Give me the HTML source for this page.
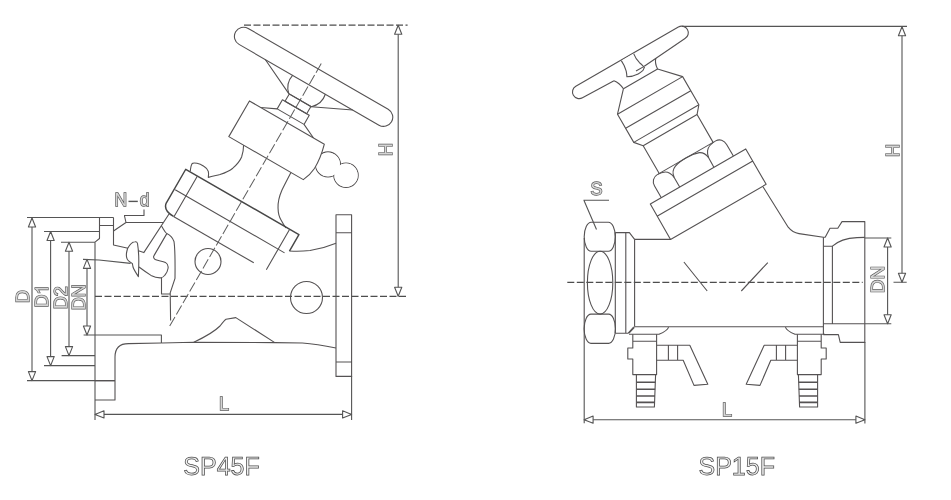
<!DOCTYPE html>
<html><head><meta charset="utf-8"><title>SP45F SP15F</title>
<style>
html,body{margin:0;padding:0;background:#fff;width:951px;height:500px;overflow:hidden}
svg{display:block;will-change:transform}
.t{font-family:"Liberation Sans",sans-serif;fill:#f2f2f2;stroke:#5a5a5a;stroke-width:1.3;paint-order:stroke}
</style></head>
<body>
<svg width="951" height="500" viewBox="0 0 951 500">
<defs>
<path id="arU" d="M0,0 L-3.6,9 L3.6,9 Z"/>
</defs>
<g fill="none" stroke="#555253" stroke-width="1.1" stroke-linejoin="round">

<!-- ============ LEFT VALVE SP45F ============ -->
<!-- dimension lines -->
<g stroke="#555">
<path d="M27,217.5H113.5 M32,218V380.6 M27,380.6H115"/>
<path d="M44,231.5H99.5 M50.6,231.5V365.6 M44,365.6H95"/>
<path d="M61,242.2H95 M69,242.2V355.6 M61.6,355.6H95"/>
<path d="M83,259.4L99,260L130.6,263.4 M87,259.4V335 M83.6,335H161.4V343"/>
<path d="M95,242.2V420 M351.6,376V420 M95,414.4H351.6"/>
<path d="M398.2,25V296.2"/>
</g>
<g stroke="#4d4d4d" stroke-dasharray="7 2.5" stroke-width="1.25">
<path d="M244,25H407.6"/>
<path d="M95,296.4H406.4"/>
</g>
<!-- arrows -->
<g fill="#fff" stroke="#555">
<use href="#arU" x="32" y="218"/>
<use href="#arU" x="32" y="380.6" transform="rotate(180 32 380.6)"/>
<use href="#arU" x="50.6" y="231.5"/>
<use href="#arU" x="50.6" y="365.6" transform="rotate(180 50.6 365.6)"/>
<use href="#arU" x="69" y="242.2"/>
<use href="#arU" x="69" y="355.6" transform="rotate(180 69 355.6)"/>
<use href="#arU" x="87" y="259.4"/>
<use href="#arU" x="87" y="335" transform="rotate(180 87 335)"/>
<use href="#arU" x="398.2" y="25.2"/>
<use href="#arU" x="398.2" y="296.2" transform="rotate(180 398.2 296.2)"/>
<use href="#arU" x="95" y="414.4" transform="rotate(-90 95 414.4)"/>
<use href="#arU" x="351.6" y="414.4" transform="rotate(90 351.6 414.4)"/>
</g>

<!-- left flange -->
<path d="M99.5,217.5V225.5H113.5 M99.5,225.5V238.5L95,242.2 M113.5,217.5V245L128,248.2"/>
<path d="M128.5,201.4H137.8" stroke-width="1.4" stroke="#555"/>
<path d="M113.5,231L126,222.5H163 M124,215.5H144V209.5 M124.5,216L126,222.5"/>
<path d="M95,380.6H115 M95,400H115V357Q115,343.6 128.5,343.6L161.4,343"/>
<!-- body -->
<path d="M161.4,343L193.8,342.2L274.8,342.6L302.4,343C315,344 326,346 336,348"/>
<path d="M193.8,342.2C205,337 214,332 220,326C223,322 224.5,320 226,319.2L235.8,317.6L274.8,342.6"/>
<path d="M289.5,251C296,251.5 304,251.2 310,250.5C320,249 328,246.5 336,243.2"/>
<path d="M161.5,226C164,230 165,232.5 166.8,233.6C170,235 172.5,237.5 174,241.5C175.3,250 175.2,262 175,278.4L170.2,292.8L170.6,320.4"/>
<path d="M161.5,277.8V294H170.2"/>
<!-- right flange -->
<path d="M336,214.7H351.6V376.4H336Z M336,232.8H351.6 M336,362H351.6"/>
<!-- S hook & ear -->
<path d="M169,214L143.8,252.6L138.4,250.8"/>
<path d="M127.6,248.4C129.5,245 132.5,242 134.8,241.8C136,241.6 137.2,242.2 137.5,243.5C138.4,249 138.8,255 138.8,261C138.8,267 138.6,272 138.4,276.6C136,273 134,270 133,267C132.6,265 132.6,264 132.2,263.4C130,262 127.6,260.6 127,258.6C126.2,256.5 126.2,254 126.8,251.5Z"/>
<path d="M166.8,233.6L154,255.6C153,257 154,259.2 155.8,259.8C158.5,261 162.5,261 165.4,262.4C168,264 168.5,266 168,268.5C167.5,271.5 166.5,273.5 165,275C163.5,276.8 162.3,277.7 161.2,277.8C157.5,278 154,277 151,275.4C146.5,272.5 143,270 139,267"/>
<!-- circles -->
<circle cx="208" cy="261.5" r="13"/>
<circle cx="306.5" cy="297.5" r="16"/>

<!-- knob (two circles) -->
<circle cx="328" cy="164.4" r="12.5"/>
<circle cx="346" cy="175.2" r="12.2"/>
<circle cx="328" cy="164.4" r="12" fill="#fff" stroke="none"/>
<circle cx="346" cy="175.2" r="11.7" fill="#fff" stroke="none"/>

<path d="M190.3,171.2C190.6,168 191.2,165 192.2,163.5C193,162.8 195,163 197,163.3C199,163.6 202,165 203.8,166.2C206,167.5 207.8,169.5 208.3,171.4C208.7,173 208.6,175.5 208.3,177.4C212,176.3 216,175.5 220,174.5C226,172.5 230,170.5 232.8,168.2C237,164.5 240,161 241.6,157C243,153 243.6,149 243.6,145.1"/>
<!-- bonnet, rotated frame -->
<g transform="translate(313.6,76.8) rotate(30)">
  <!-- handwheel -->
  <rect x="-90" y="-9.2" width="180" height="18.4" rx="9.2" fill="#fff"/>
  <path d="M-50.5,9.2L-13.07,27 M50.5,9.2L13.07,27"/>
  <path d="M-18.9,9A19.3,19.3 0 0 0 -13.07,27L13.07,27A19.3,19.3 0 0 0 18.9,9"/>
  <rect x="-12.5" y="27" width="25" height="8.5"/>
  <rect x="-15.5" y="35.5" width="31" height="10.5"/>
  <path d="M-15.5,46L-30.5,53 M15.5,46L30.5,53"/>
  <!-- block -->
  <path d="M-43.5,53L43,53C45.5,62 46.8,72 46.6,79C46.2,85 45,89 42.5,94.2L-43.5,94.2Z" fill="#fff"/>
  <!-- neck -->
  <path d="M28.2,94.2C28.5,101 28.8,108 29.2,113.8C30,121 32,127 34.8,131.4C37,135 40,138.5 43.4,140.3C46,142 49,143.5 51.7,144.7"/>
  <!-- flange -->
  <path d="M-64.5,183V144H66.2V163 M-64.5,183Q-63.5,191 -51.5,191" stroke-width="1.45" stroke="#474747"/>
  <path d="M-51.5,191H41.2"/>
  <path d="M-63.4,167H62.9 M-51,144V191 M55.5,144V190.7"/>
  <!-- axis -->
  <path d="M0,287.8V-17.7" stroke-dasharray="10.5 2.8" stroke="#5e5e5e" stroke-width="1"/>
</g>

<!-- ============ RIGHT VALVE SP15F ============ -->
<g stroke="#555">
<path d="M682,26.4H907 M902,26.8V282.2 M893.5,282.2H906.7"/>
<path d="M864.8,238H891.3 M864.8,323.7H891.3 M887.6,238V323.7"/>
<path d="M584.2,343V423.2 M864.9,342V423.5 M584.2,419.7H864.9"/>
<path d="M583.5,200.2H609 M584,200.5L596.5,229.5"/>
</g>
<g stroke="#4d4d4d" stroke-dasharray="7 2.5" stroke-width="1.25">
<path d="M567.3,282.4H862.7"/>
</g>
<g fill="#fff" stroke="#555">
<use href="#arU" x="902" y="26.8"/>
<use href="#arU" x="902" y="282.2" transform="rotate(180 902 282.2)"/>
<use href="#arU" x="887.6" y="238"/>
<use href="#arU" x="887.6" y="323.7" transform="rotate(180 887.6 323.7)"/>
<use href="#arU" x="584.1" y="419.7" transform="rotate(-90 584.1 419.7)"/>
<use href="#arU" x="864.9" y="419.7" transform="rotate(90 864.9 419.7)"/>
</g>
<!-- union nut -->
<path d="M584.2,238V343 M615.3,232.6V333"/>
<path d="M591.2,222.3H608.4A6.9,14.45 0 0 1 608.4,251.2H591.2A7,14.45 0 0 1 591.2,222.3Z"/>
<path d="M591,314.1H608.6A6.9,14.65 0 0 1 608.6,343.4H591A6.9,14.65 0 0 1 591,314.1Z"/>
<ellipse cx="600.1" cy="282.65" rx="12.7" ry="31.45"/>
<!-- ring -->
<path d="M615.2,232.6H629.4L634.6,239.4 M625.8,232.6V333.2 M615.2,333.2H628.2L633.8,326.8 M634.6,239.4V326.8"/>
<!-- pipe -->
<path d="M634.6,239.4H670.6 M634.6,326.8H823.4"/>
<path d="M683.9,262L707.2,291 M767.8,262.6L741.3,291"/>
<path d="M763,186.7L788.2,227.2C792,232 795,233 799,233.6L823.4,237.2"/>
<!-- right fitting -->
<path d="M823.4,237.2V334.6 M823.4,237.2H825.2L830,228.2H837.8L842,221.6H864.8V342.4H840.2L838.4,334.6H823.4"/>
<path d="M823.4,246.2H832.4V323.8 M823.4,323.8H864.8 M832.4,246.2C838,241 848,238 857,237.6L864.8,237.4"/>
<!-- test valves -->
<path d="M629,333.2L634.4,327.4"/>
<g id="tv">
<path d="M668.6,327.2C668,329 666,331.5 659,334.3L629,334.3"/>
<path d="M632.8,334.3V348H627.8V359H632.8V374.6H656.6V334.3 M632.8,341.2H656.6"/>
<path d="M656.6,345.2H689.8L707.8,384.2L694,385.4L683.2,360.2H656.6 M668.4,345.2V360.2 M677.6,345.2V360.2"/>
<path d="M636.4,374.6V407H654.4L655.6,374.6"/>
<path d="M636.4,382.2H655.4 M636.4,389.2H655.2 M636.4,396H655 M636.4,402.4H654.8" stroke-width="1.6"/>
</g>
<use href="#tv" transform="translate(1454,0) scale(-1,1)"/>

<!-- right bonnet (rotated frame) -->
<g transform="translate(631,62.2) rotate(-30)">
  <path d="M9.5,10.1L58.6,6.5A6.65,6.65 0 0 0 58.6,-6.8H-59.8A6.65,6.65 0 0 0 -59.8,6.5L-24,7.6"/>
  <path d="M-7.6,-6.2C-7.6,-3 -7.6,-0.6 -7.6,-0.6C-8,2 -8.6,5.3 -8.6,5.3C-9.5,8 -10.8,10.5 -10.8,10.5C-8,12 -4,13.5 0.3,13.7C3,13.8 6.3,13.1 6.3,13.1L9.1,11.1C8.5,9 8,6.5 7.1,4.7C6.4,2 5.9,-1.7 6.6,-6.1" fill="#fff"/>
  <path d="M-0.1,10.2H8.8"/>
  <path d="M-24,7.6Q-20.5,12 -19.8,19.2 M23.5,8.9Q19.8,13 19.6,19.2"/>
  <path d="M-19.8,19.2H19.6L37.5,38.3V70.8L31,78.4V110.5 M-19.8,19.2L-37.7,38.3V70.8L-31.2,78.4V110.5"/>
  <path d="M-37.7,38.3H37.5 M-37.7,54.6H37.5 M-37.7,70.8H37.5 M-31.2,78.4H31"/>
  <!-- hex nut -->
  <path d="M-32.5,110.5H31.5"/>
  <path d="M-41.5,132.5V119C-41.5,114 -38,110.5 -33.5,110.5C-28,110.5 -24,112 -22,115.5C-20.8,117.5 -20.3,119.5 -20.3,121.5V132.5"/>
  <path d="M-20.3,121.5C-19.8,117 -17,113.5 -13.5,112.2C-9,110.5 -4,110.3 0,110.3C5,110.3 10,111 14,112.5C17,114 19,117 19.5,121.5L19.2,132.5"/>
  <path d="M41.7,132.5V119C41.7,114 38.5,110.5 34,110.5C28.5,110.5 24.5,111.5 22,115C20.5,117 19.8,119 19.5,121.5"/>
  <!-- flange -->
  <path d="M-54.2,132.5H56V173.3H-54.4Z M-54,146.5H56" fill="none"/>
</g>

</g>

<!-- texts -->
<g class="t" font-size="18" fill="#d4d4d4" style="fill:#d4d4d4">
<text x="0" y="0" transform="translate(28.5,303) rotate(-90)">D</text>
<text x="0" y="0" transform="translate(48,307.6) rotate(-90)">D</text>
<path transform="translate(48,307.6) rotate(-90) translate(13,0) scale(0.018,-0.018)" vector-effect="non-scaling-stroke" d="M372,0L284,0L284,560Q252,530 200,500Q148,470 106,454L106,539Q179,573 234,622Q289,671 312,716L372,716Z"/>
<text x="0" y="0" transform="translate(66.7,309.2) rotate(-90)">D2</text>
<text x="0" y="0" transform="translate(84.7,310.2) rotate(-90)">DN</text>
<text x="0" y="0" transform="translate(392,156) rotate(-90)">H</text>
<text x="219" y="410">L</text>
<text x="114.6" y="205.8" font-size="17.5">N</text><text x="139.8" y="205.8" font-size="17.5">d</text>
<text x="0" y="0" transform="translate(899,157) rotate(-90)">H</text>
<text x="0" y="0" transform="translate(884,293.2) rotate(-90)" font-size="19">DN</text>
<text x="722" y="416">L</text>
<text x="590.5" y="195">S</text>
</g>
<g class="t" font-size="24" style="paint-order:normal;stroke-width:0.75;stroke:#4e4e4e;fill:#efefef">
<text x="183.3" y="474.8" font-size="25">SP45F</text>
<text x="698.5" y="474.8" font-size="25">SP15F</text>
</g>
</svg>
</body></html>
